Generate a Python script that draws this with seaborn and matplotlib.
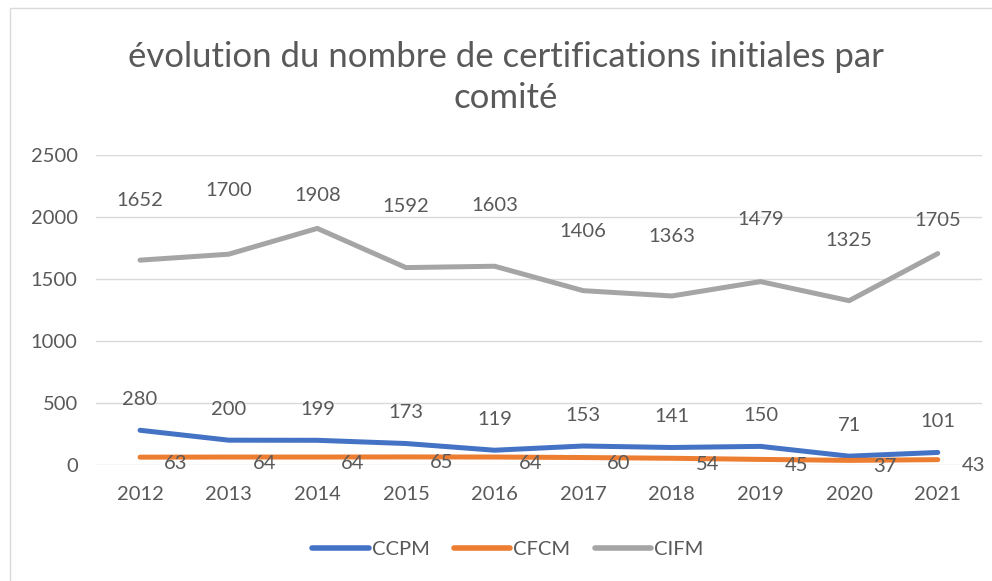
import matplotlib
matplotlib.use("Agg")
import matplotlib.pyplot as plt
import seaborn as sns
import pandas as pd
from matplotlib.patches import Rectangle

# data
years = [2012, 2013, 2014, 2015, 2016, 2017, 2018, 2019, 2020, 2021]
ccpm = [280, 200, 199, 173, 119, 153, 141, 150, 71, 101]
cfcm = [63, 64, 64, 65, 64, 60, 54, 45, 37, 43]
cifm = [1652, 1700, 1908, 1592, 1603, 1406, 1363, 1479, 1325, 1705]
series = ["CCPM", "CFCM", "CIFM"]
colors = ["#4472C4", "#ED7D31", "#A5A5A5"]

df = pd.DataFrame({
    "annee": years * 3,
    "valeur": ccpm + cfcm + cifm,
    "comite": [s for s in series for _ in years],
})

sns.set_style("white")
plt.rcParams["font.family"] = ["Lato", "DejaVu Sans"]
txt = "#595959"
fs = 14.5

fig = plt.figure(figsize=(9.92, 5.81), dpi=100)
ax = fig.add_axes([0.0965, 0.1997, 0.8935, 0.5335])

sns.lineplot(data=df, x="annee", y="valeur", hue="comite", palette=colors,
             linewidth=3.6, ax=ax, legend=True)
for ln in ax.lines:
    ln.set_solid_capstyle("round")

ax.set_xlim(2011.5, 2021.5)
ax.set_ylim(0, 2500)
ax.set_xticks(years)
ax.set_yticks(range(0, 2501, 500))
ax.tick_params(length=0, labelsize=fs, colors=txt)
ax.tick_params(axis="x", pad=15)
ax.tick_params(axis="y", pad=13)
ax.grid(axis="y", color="#D9D9D9", linewidth=1)
ax.set_axisbelow(True)
for sp in ax.spines.values():
    sp.set_visible(False)
ax.set_xlabel("")
ax.set_ylabel("")

# data labels
cifm_off = [60, 64, 33, 61, 61, 59, 59, 62, 60, 33]
for x, v, o in zip(years, cifm, cifm_off):
    ax.annotate(str(v), (x, v), xytext=(0, o * 0.72), textcoords="offset points",
                ha="center", va="center", fontsize=fs, color=txt)
for x, v in zip(years, ccpm):
    ax.annotate(str(v), (x, v), xytext=(0, 31 * 0.72), textcoords="offset points",
                ha="center", va="center", fontsize=fs, color=txt)
for x, v in zip(years, cfcm):
    ax.annotate(str(v), (x, v), xytext=(24 * 0.72, -6 * 0.72), textcoords="offset points",
                ha="left", va="center", fontsize=fs, color=txt)

fig.text(0.510, 1 - 77.5 / 581, "évolution du nombre de certifications initiales par\ncomité",
         ha="center", va="center", fontsize=25, color=txt, linespacing=1.35)

leg = ax.legend(loc="center", bbox_to_anchor=(0.512, 1 - 549 / 581), bbox_transform=fig.transFigure,
                ncol=3, frameon=False, fontsize=fs, handlelength=2.8, handletextpad=0.15,
                columnspacing=1.2)
for t in leg.get_texts():
    t.set_color(txt)
for h in leg.get_lines():
    h.set_linewidth(4)

fig.patches.append(Rectangle((10 / 992, -0.05), 1.1, 1 - 8 / 581 + 0.05, transform=fig.transFigure,
                             fill=False, edgecolor="#D9D9D9", linewidth=1))

fig.savefig("out.png", dpi=100)
